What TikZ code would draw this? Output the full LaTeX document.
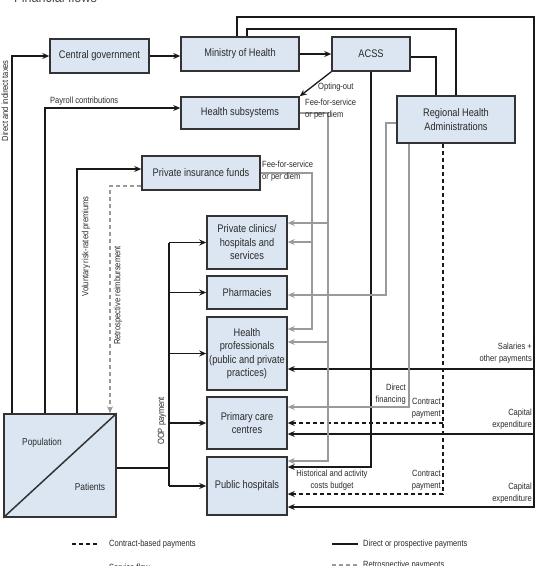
\documentclass[tikz,border=0pt]{standalone}
\usepackage{fontspec}
\setmainfont{Liberation Sans}[FakeStretch=0.84]
\usetikzlibrary{arrows.meta}
\definecolor{boxfill}{HTML}{DCE6F2}
\definecolor{boxdraw}{HTML}{333333}
\definecolor{gline}{HTML}{9A9A9A}
\definecolor{txt}{HTML}{2A2A2A}
\tikzset{
  box/.style={draw=boxdraw, line width=1.5pt, fill=boxfill, align=center, text=txt,
    font=\fontsize{11}{13.5}\selectfont, inner sep=1pt},
  lbl/.style={text=txt, font=\fontsize{9}{12}\selectfont, inner sep=0pt},
  blk/.style={draw=black!90, line width=1.3pt},
  arr/.style={blk, -{Stealth[length=7pt,width=6pt]}},
  gry/.style={draw=gline, line width=1.3pt},
  garr/.style={gry, -{Stealth[length=7pt,width=6pt]}},
  dsh/.style={dash pattern=on 4pt off 3pt},
}
\begin{document}
\begin{tikzpicture}[x=1pt,y=-1pt]
\useasboundingbox (0,0) rectangle (537,566);

% title (cut off at top)
\node[anchor=base west, text=black!70, font=\fontsize{15}{18}\selectfont, inner sep=0pt] (title) at (14,2) {Financial flows};

% boxes
\node[box, minimum width=99pt, minimum height=34pt] (cg) at (99.5,56) {Central government};
\node[box, minimum width=118pt, minimum height=34pt] (moh) at (240,54) {Ministry of Health};
\node[box, minimum width=78pt, minimum height=34pt] (acss) at (371,54) {ACSS};
\node[box, minimum width=118pt, minimum height=32pt] (hs) at (240,113) {Health subsystems};
\node[box, minimum width=118pt, minimum height=47pt] (rha) at (456,119.5) {Regional Health\\Administrations};
\node[box, minimum width=118pt, minimum height=34pt] (pif) at (201,173) {Private insurance funds};
\node[box, minimum width=80pt, minimum height=53pt] (pc) at (247,242.5) {Private clinics/\\hospitals and\\services};
\node[box, minimum width=80pt, minimum height=33pt] (ph) at (247,292.5) {Pharmacies};
\node[box, minimum width=80pt, minimum height=73pt] (hp) at (247,353.5) {Health\\professionals\\(public and private\\practices)};
\node[box, minimum width=80pt, minimum height=52pt] (pcc) at (247,423) {Primary care\\centres};
\node[box, minimum width=80pt, minimum height=58pt] (pub) at (247,486) {Public hospitals};
\node[box, minimum width=112pt, minimum height=103pt] (pop) at (60,465.5) {};
\draw[boxdraw, line width=1.5pt] (pop.south west) -- (pop.north east);
\node[lbl, font=\fontsize{10}{12}\selectfont] (popl) at (42,443) {Population};
\node[lbl, font=\fontsize{10}{12}\selectfont] (patl) at (90,487) {Patients};

% population flows
\draw[arr] (12,0 |- pop.north) |- (cg.west);
\draw[arr] (45,0 |- pop.north) |- ([yshift=5pt]hs.west);
\draw[arr] (77,0 |- pop.north) |- ([yshift=4pt]pif.west);
\draw[gry, dsh, -{Stealth[length=7pt,width=6pt]}] ([yshift=-13pt]pif.west) -| (110,0 |- pop.north);
\node[lbl, rotate=90, anchor=east] (taxl) at (5,60) {Direct and indirect taxes};
\node[lbl, anchor=west] (payl) at (50,101) {Payroll contributions};
\node[lbl, rotate=90, anchor=east] (voll) at (86,196) {Voluntary risk-rated premiums};
\node[lbl, rotate=90, anchor=west] (retl) at (118,345) {Retrospective reimbursement};

% government flows
\draw[arr] (cg.east) -- (moh.west |- cg.east);
\draw[arr] (moh.east) -- (acss.west);
\draw[arr] (acss.south west) -- (hs.north east);
\node[lbl, anchor=west] (optl) at (318,87) {Opting-out};
\draw[blk] ([yshift=-3pt]acss.east) -| (436,0 |- rha.north);
\draw[blk] (247,0 |- moh.north) |- (456,29) -- (456,0 |- rha.north);
\coordinate (R) at (534,17);
\draw[arr] (237,0 |- moh.north) |- (R) |- ([yshift=-21pt]pub.east);
\draw[arr] (R |- 0,369) -- (hp.east |- 0,369);
\draw[arr] (R |- 0,434) -- (pcc.east |- 0,434);
\draw[arr] (acss.south) |- (pub.east |- 0,467);
\draw[arr, dsh] (443,0 |- rha.south) |- (pub.east |- 0,494);
\draw[arr, dsh] (443,0 |- pcc.east) -- (pcc.east);

% gray service flows
\draw[garr] (hs.east) -| (328,461) -- (pub.east |- 0,461);
\draw[garr] (328,223) -- (pc.east |- 0,223);
\draw[garr] (328,342) -- (hp.east |- 0,342);
\draw[garr] (pif.east) -| (312,329) -- (hp.east |- 0,329);
\draw[garr] (312,242) -- (pc.east |- 0,242);
\draw[garr] ([yshift=-3.5pt]rha.west) -| (386,295) -- (ph.east |- 0,295);
\draw[garr] (409,0 |- rha.south) |- (pcc.east |- 0,407);

\node[lbl, anchor=north west, align=left] (ffs1) at (305,99) {Fee-for-service\\or per diem};
\node[lbl, anchor=north west, align=left] (ffs2) at (262,161) {Fee-for-service\\or per diem};
\node[lbl, anchor=east, align=right] (dfl) at (406,394) {Direct\\financing};
\node[lbl, anchor=east, align=right] (cp1) at (441,408) {Contract\\payment};
\node[lbl, anchor=east, align=right] (cp2) at (441,480) {Contract\\payment};
\node[lbl, align=center] (hist) at (332,480) {Historical and activity\\costs budget};
\node[lbl, anchor=east, align=right] (sal) at (532,353) {Salaries +\\other payments};
\node[lbl, anchor=east, align=right] (cap1) at (532,419) {Capital\\expenditure};
\node[lbl, anchor=east, align=right] (cap2) at (532,493) {Capital\\expenditure};

% OOP payments
\coordinate (oop) at (169,0);
\draw[blk] (pop.east |- 0,468) -- (oop |- 0,468);
\draw[blk] (oop |- pc.west) -- (oop |- pub.west);
\foreach \n in {pc,ph,hp,pcc,pub} \draw[arr] (oop |- \n.west) -- (\n.west);
\node[lbl, rotate=90, anchor=west] (oopl) at (162,445) {OOP payment};

% legend
\draw[blk, dsh] (72,544) -- (98,544);
\node[lbl, anchor=west] (lg1) at (109,544) {Contract-based payments};
\draw[blk] (332,544) -- (358,544);
\node[lbl, anchor=west] (lg2) at (363,544) {Direct or prospective payments};
\node[lbl, anchor=west] (lg3) at (109,567) {Service flow};
\draw[gry, dsh] (332,565) -- (358,565);
\node[lbl, anchor=west] (lg4) at (363,565) {Retrospective payments};
\end{tikzpicture}
\end{document}
